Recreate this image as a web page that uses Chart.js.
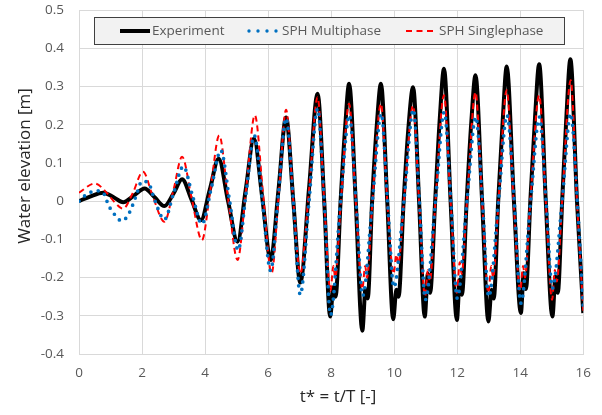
<!DOCTYPE html>
<html>
<head>
<meta charset="utf-8">
<script src="https://cdn.jsdelivr.net/npm/chart.js@4"></script>
<style>
  html, body { margin: 0; padding: 0; background: #fff; }
  #wrap { width: 602px; height: 415px; }
</style>
</head>
<body>
<div id="wrap"><canvas id="waveChart" width="602" height="415"></canvas></div>
<script>
// ---- data (t* = t/T, water elevation in m) ----
const seriesNames = ['Experiment', 'SPH Multiphase', 'SPH Singlephase'];

const xTicks = [0, 2, 4, 6, 8, 10, 12, 14, 16];
const yTicks = [-0.4, -0.3, -0.2, -0.1, 0, 0.1, 0.2, 0.3, 0.4, 0.5];

const expT = [0, 0.35, 0.77, 1.1, 1.4, 1.75, 2.08, 2.4, 2.71, 3.0, 3.27, 3.57, 3.87, 4.15, 4.43, 4.73, 5.03,
  5.29, 5.55, 5.82, 6.08, 6.33, 6.57, 6.8, 7.02, 7.3, 7.57, 7.78, 7.97,
  8.07, 8.14, 8.3, 8.45, 8.57, 8.78, 8.99, 9.09, 9.16, 9.3, 9.45, 9.58, 9.78, 9.97,
  10.07, 10.14, 10.3, 10.46, 10.6, 10.79, 10.97, 11.07, 11.14, 11.3, 11.45, 11.58, 11.79, 11.99,
  12.08, 12.15, 12.3, 12.45, 12.58, 12.79, 12.99, 13.09, 13.16, 13.3, 13.45, 13.57, 13.8, 14.02,
  14.11, 14.18, 14.32, 14.47, 14.6, 14.81, 15.02, 15.12, 15.19, 15.33, 15.47, 15.59, 15.8, 16.0];
const expV = [0, 0.012, 0.022, 0.01, -0.003, 0.015, 0.033, 0.01, -0.013, 0.02, 0.057, 0.004, -0.05, 0.03, 0.111, 0, -0.106,
  0.03, 0.164, 0.005, -0.154, 0.03, 0.219, 0, -0.213, 0.035, 0.281, 0, -0.302,
  -0.225, -0.25, 0, 0.2, 0.307, 0, -0.339, -0.23, -0.255, 0, 0.2, 0.307, 0, -0.309,
  -0.232, -0.25, 0, 0.2, 0.298, 0, -0.302, -0.19, -0.24, 0, 0.22, 0.346, 0, -0.311,
  -0.206, -0.245, 0, 0.21, 0.329, 0, -0.315, -0.232, -0.255, 0, 0.22, 0.352, 0, -0.293,
  -0.189, -0.23, 0, 0.22, 0.358, 0, -0.302, -0.198, -0.24, 0, 0.23, 0.371, 0, -0.293];

const mulT = [0, 0.25, 0.55, 0.75, 0.95, 1.1, 1.36, 1.6, 1.8, 2.0, 2.2, 2.4, 2.71, 3.0, 3.31,
  3.6, 3.9, 4.2, 4.5, 4.78, 5.05, 5.3, 5.56, 5.82, 6.08, 6.33, 6.57, 6.8, 7.02, 7.3,
  7.57, 7.78, 7.98, 8.3, 8.58, 8.79, 9.0, 9.31, 9.59, 9.79, 9.99, 10.31, 10.61, 10.8, 10.99,
  11.31, 11.59, 11.8, 12.0, 12.31, 12.59, 12.8, 13.0, 13.31, 13.58, 13.81, 14.02, 14.33, 14.61, 14.82,
  15.02, 15.33, 15.6, 15.81, 16.0];
const mulV = [0, 0.018, 0.027, 0.024, -0.013, -0.032, -0.052, -0.03, 0.011, 0.052, 0.048, 0.003, -0.048, 0.02, 0.091,
  0.015, -0.06, 0.035, 0.133, 0, -0.128, 0.02, 0.172, 0, -0.182, 0.02, 0.217, 0, -0.245, 0,
  0.242, 0, -0.298, 0, 0.225, 0, -0.248, 0, 0.229, 0, -0.225, 0, 0.24, 0, -0.258,
  0, 0.233, 0, -0.254, 0, 0.22, 0, -0.25, 0, 0.225, 0, -0.267, 0, 0.22, 0,
  -0.228, 0, 0.229, 0, -0.28];

const sinT = [0, 0.5, 0.9, 1.1, 1.4, 1.7, 2.03, 2.35, 2.71, 3.0, 3.27, 3.58, 3.9, 4.17, 4.45, 4.74, 5.03,
  5.3, 5.58, 5.84, 6.11, 6.34, 6.57, 6.8, 7.02, 7.3, 7.57, 7.78, 7.98,
  8.07, 8.13, 8.31, 8.57, 8.78, 8.99, 9.08, 9.14, 9.31, 9.58, 9.78, 9.98,
  10.07, 10.13, 10.31, 10.6, 10.79, 10.98, 11.07, 11.13, 11.31, 11.58, 11.79, 11.99,
  12.08, 12.14, 12.31, 12.58, 12.79, 12.99, 13.08, 13.14, 13.31, 13.57, 13.79, 14.0,
  14.09, 14.15, 14.32, 14.6, 14.81, 15.01, 15.1, 15.16, 15.33, 15.6, 15.8, 16.0];
const sinV = [0.022, 0.046, 0.02, 0, -0.02, 0.02, 0.077, 0.01, -0.054, 0.03, 0.116, 0.005, -0.102, 0.03, 0.172, 0, -0.154,
  0.03, 0.225, 0.02, -0.189, 0.02, 0.239, 0, -0.19, 0.03, 0.272, 0, -0.235,
  -0.17, -0.2, 0, 0.255, 0, -0.23, -0.17, -0.2, 0, 0.255, 0, -0.19,
  -0.14, -0.165, 0, 0.25, 0, -0.25, -0.18, -0.21, 0, 0.277, 0, -0.24,
  -0.16, -0.19, 0, 0.285, 0, -0.24, -0.17, -0.2, 0, 0.29, 0, -0.235,
  -0.17, -0.2, 0, 0.277, 0, -0.258, -0.18, -0.21, 0, 0.316, 0, -0.29];

const toPoints = (ts, vs) => ts.map((t, i) => ({ x: t, y: vs[i] }));

const FONT = "'Open Sans', 'Liberation Sans', sans-serif";
const GRID = '#d9d9d9';

// legend box drawn inside the plot area, like the spreadsheet original
const boxLegendPlugin = {
  id: 'boxLegend',
  afterDraw(chart) {
    const ctx = chart.ctx;
    ctx.save();
    ctx.fillStyle = '#f2f2f2';
    ctx.strokeStyle = '#404040';
    ctx.lineWidth = 1;
    ctx.fillRect(94, 17, 470, 27);
    ctx.strokeRect(94.5, 17.5, 470, 27);

    const yMid = 31;
    // Experiment
    ctx.beginPath();
    ctx.strokeStyle = '#000';
    ctx.lineWidth = 4;
    ctx.moveTo(120, yMid); ctx.lineTo(150, yMid);
    ctx.stroke();
    // SPH Multiphase (round dots)
    ctx.beginPath();
    ctx.strokeStyle = '#0070c0';
    ctx.lineWidth = 3.4;
    ctx.lineCap = 'round';
    ctx.setLineDash([0, 9]);
    ctx.moveTo(249, yMid); ctx.lineTo(278, yMid);
    ctx.stroke();
    // SPH Singlephase (dashes)
    ctx.beginPath();
    ctx.strokeStyle = '#ff0000';
    ctx.lineWidth = 2;
    ctx.lineCap = 'butt';
    ctx.setLineDash([6, 4.5]);
    ctx.moveTo(406, yMid); ctx.lineTo(433, yMid);
    ctx.stroke();
    ctx.setLineDash([]);

    ctx.fillStyle = '#595959';
    ctx.font = `13.5px ${FONT}`;
    ctx.textAlign = 'left';
    ctx.textBaseline = 'middle';
    ctx.fillText(seriesNames[0], 152, yMid);
    ctx.fillText(seriesNames[1], 282, yMid);
    ctx.fillText(seriesNames[2], 439, yMid);
    ctx.restore();
  }
};

// axis titles, placed where the original has them
const axisTitlesPlugin = {
  id: 'axisTitles',
  afterDraw(chart) {
    const ctx = chart.ctx;
    ctx.save();
    ctx.fillStyle = '#262626';
    ctx.font = `17px ${FONT}`;
    ctx.textAlign = 'center';
    ctx.textBaseline = 'middle';
    ctx.fillText('t* = t/T [-]', 338, 397);
    ctx.translate(25, 166);
    ctx.rotate(-Math.PI / 2);
    ctx.fillText('Water elevation [m]', 0, 0);
    ctx.restore();
  }
};

const fmtTick = (v) => {
  const r = Math.round(v * 10) / 10;
  return r === 0 ? '0' : String(r);
};

new Chart(document.getElementById('waveChart').getContext('2d'), {
  type: 'line',
  data: {
    datasets: [
      {
        label: seriesNames[0],
        data: toPoints(expT, expV),
        borderColor: '#000000',
        borderWidth: 4,
        cubicInterpolationMode: 'monotone',
        pointRadius: 0,
        order: 3
      },
      {
        label: seriesNames[1],
        data: toPoints(mulT, mulV),
        borderColor: '#0070c0',
        borderWidth: 3.7,
        borderDash: [0, 7.5],
        borderCapStyle: 'round',
        cubicInterpolationMode: 'monotone',
        pointRadius: 0,
        order: 1
      },
      {
        label: seriesNames[2],
        data: toPoints(sinT, sinV),
        borderColor: '#ff0000',
        borderWidth: 2,
        borderDash: [6, 4],
        cubicInterpolationMode: 'monotone',
        pointRadius: 0,
        order: 2
      }
    ]
  },
  options: {
    responsive: false,
    animation: false,
    layout: { padding: { top: 10, right: 16, left: 0, bottom: 0 } },
    scales: {
      x: {
        type: 'linear',
        min: xTicks[0],
        max: xTicks[xTicks.length - 1],
        afterBuildTicks: (s) => { s.ticks = xTicks.map(v => ({ value: v })); },
        afterFit: (s) => { s.height = 61; },
        grid: { color: GRID, drawTicks: false },
        border: { color: GRID },
        ticks: { color: '#595959', font: { family: FONT, size: 13.5 }, padding: 11, maxRotation: 0 }
      },
      y: {
        type: 'linear',
        min: yTicks[0],
        max: yTicks[yTicks.length - 1],
        afterBuildTicks: (s) => { s.ticks = yTicks.map(v => ({ value: v })); },
        afterFit: (s) => { s.width = 79; s.paddingTop = 8; s.paddingBottom = 8; },
        grid: { color: GRID, drawTicks: false },
        border: { color: GRID },
        ticks: { color: '#595959', font: { family: FONT, size: 13.5 }, padding: 15, callback: fmtTick }
      }
    },
    plugins: { legend: { display: false }, tooltip: { enabled: false } }
  },
  plugins: [boxLegendPlugin, axisTitlesPlugin]
});
</script>
</body>
</html>
